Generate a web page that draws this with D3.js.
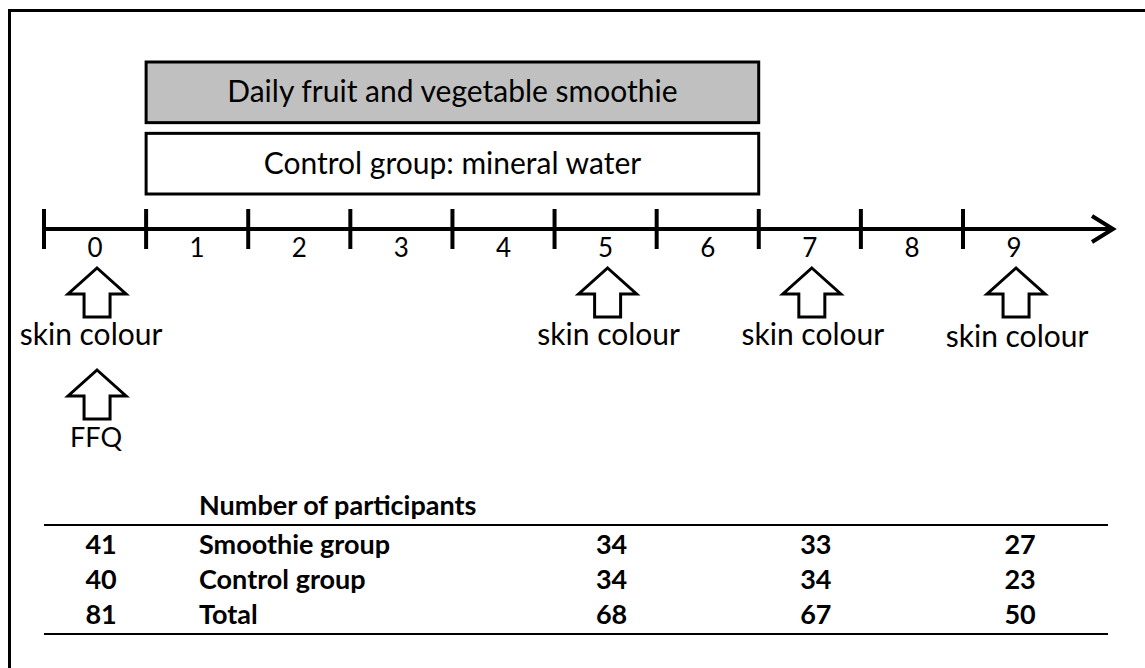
<!DOCTYPE html>
<html>
<head>
<meta charset="utf-8">
<script src="https://cdn.jsdelivr.net/npm/d3@7"></script>
<style>
  body { margin: 0; background: #fff; }
  text { font-family: Lato, "Open Sans", sans-serif; fill: #000; }
</style>
</head>
<body>
<script>
// study weeks on the timeline
var weeks = [0, 1, 2, 3, 4, 5, 6, 7, 8, 9];

// intervention bars (start week, end week)
var bars = [
  { label: "Daily fruit and vegetable smoothie", start: 1, end: 7, fill: "#c0c0c0" },
  { label: "Control group: mineral water", start: 1, end: 7, fill: "#ffffff" }
];

// measurements marked with arrows
var skinWeeks = [0, 5, 7, 9];
var ffqWeeks = [0];

// participants table
var tableTitle = "Number of participants";
var rowLabels = ["Smoothie group", "Control group", "Total"];
var tableWeeks = [0, 5, 7, 9];
var smoothieN = [41, 34, 33, 27];
var controlN = [40, 34, 34, 23];
var totalN = [81, 68, 67, 50];

var width = 1145, height = 668;

var svg = d3.select("body").append("svg")
  .attr("width", width)
  .attr("height", height);

// outer frame
svg.append("rect")
  .attr("x", 9.5).attr("y", 10.5)
  .attr("width", 1160).attr("height", 700)
  .attr("fill", "none").attr("stroke", "#000").attr("stroke-width", 3);

var x = d3.scaleLinear().domain([0, 9]).range([44, 963]);
var axisY = 229;

// intervention boxes
var bandY = d3.scaleBand().domain(bars.map(d => d.label)).range([62, 194]).paddingInner(0.15);

var boxes = svg.selectAll("g.box").data(bars).enter().append("g").attr("class", "box");
boxes.append("rect")
  .attr("x", d => x(d.start))
  .attr("y", d => bandY(d.label))
  .attr("width", d => x(d.end - 0.5) - x(d.start) + 51)
  .attr("height", bandY.bandwidth())
  .attr("fill", d => d.fill)
  .attr("stroke", "#000").attr("stroke-width", 3);
boxes.append("text")
  .attr("x", d => (x(d.start) + x(d.end - 0.5) + 51) / 2)
  .attr("y", d => bandY(d.label) + bandY.bandwidth() / 2 + 10)
  .attr("text-anchor", "middle")
  .attr("font-size", 30)
  .text(d => d.label);

// timeline
svg.append("line")
  .attr("x1", x(0)).attr("x2", 1110)
  .attr("y1", axisY).attr("y2", axisY)
  .attr("stroke", "#000").attr("stroke-width", 4);
svg.append("path")
  .attr("d", "M1092," + (axisY - 13) + " L1113," + axisY + " L1092," + (axisY + 13))
  .attr("fill", "none").attr("stroke", "#000").attr("stroke-width", 4);

svg.selectAll("line.tick").data(weeks).enter().append("line")
  .attr("class", "tick")
  .attr("x1", d => x(d)).attr("x2", d => x(d))
  .attr("y1", axisY - 20).attr("y2", axisY + 20)
  .attr("stroke", "#000").attr("stroke-width", 4);

svg.selectAll("text.week").data(weeks).enter().append("text")
  .attr("class", "week")
  .attr("x", d => x(d + 0.5))
  .attr("y", 257)
  .attr("text-anchor", "middle")
  .attr("font-size", 26)
  .text(d => d);

// hollow up arrows
function arrow(g, cx, top) {
  var p = d3.path();
  p.moveTo(cx, top);
  p.lineTo(cx + 29, top + 26);
  p.lineTo(cx + 13, top + 26);
  p.lineTo(cx + 13, top + 49);
  p.lineTo(cx - 13, top + 49);
  p.lineTo(cx - 13, top + 26);
  p.lineTo(cx - 29, top + 26);
  p.closePath();
  g.append("path").attr("d", p.toString())
    .attr("fill", "#fff").attr("stroke", "#000").attr("stroke-width", 3);
}

skinWeeks.forEach(function (w) {
  arrow(svg, x(w + 0.5) + 2, 268);
  svg.append("text")
    .attr("x", x(w + 0.5) + (w === 0 ? -4 : 3))
    .attr("y", 345 + (w === 9 ? 2 : 0))
    .attr("text-anchor", "middle")
    .attr("font-size", 30)
    .text("skin colour");
});

ffqWeeks.forEach(function (w) {
  arrow(svg, x(w + 0.5) + 2, 370);
  svg.append("text")
    .attr("x", x(w + 0.5) + 1)
    .attr("y", 447)
    .attr("text-anchor", "middle")
    .attr("font-size", 27)
    .text("FFQ");
});

// participants table
svg.append("text")
  .attr("x", 199).attr("y", 515)
  .attr("font-size", 27).attr("font-weight", "bold")
  .text(tableTitle);

svg.append("line").attr("x1", 44).attr("x2", 1108).attr("y1", 525).attr("y2", 525)
  .attr("stroke", "#000").attr("stroke-width", 2);
svg.append("line").attr("x1", 44).attr("x2", 1108).attr("y1", 634).attr("y2", 634)
  .attr("stroke", "#000").attr("stroke-width", 2);

var rowY = d3.scalePoint().domain(rowLabels).range([554, 624]);
var rows = [smoothieN, controlN, totalN];

rowLabels.forEach(function (lab, i) {
  svg.append("text")
    .attr("x", 199).attr("y", rowY(lab))
    .attr("font-size", 27).attr("font-weight", "bold")
    .text(lab);
  svg.selectAll(null).data(rows[i]).enter().append("text")
    .attr("x", (d, j) => x(tableWeeks[j] + 0.5) + 6)
    .attr("y", rowY(lab))
    .attr("text-anchor", "middle")
    .attr("font-size", 27).attr("font-weight", "bold")
    .text(d => d);
});
</script>
</body>
</html>
